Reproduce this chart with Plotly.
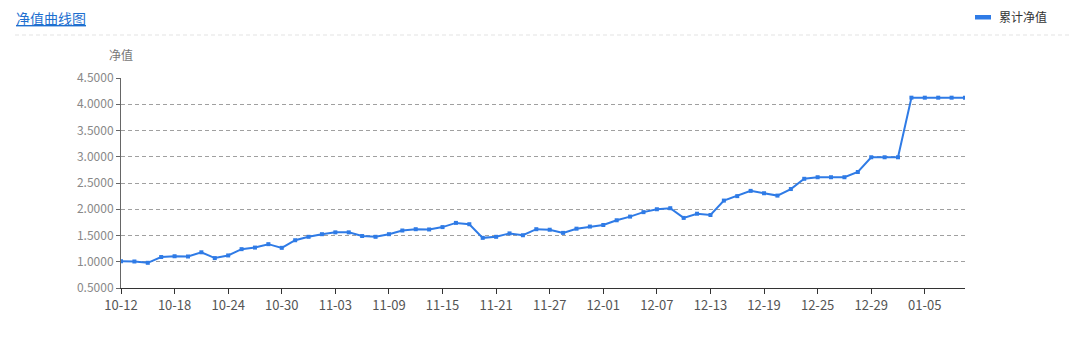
import plotly.graph_objects as go

dates = ["10-12", "10-13", "10-15", "10-16", "10-18", "10-19", "10-21", "10-22",
         "10-24", "10-25", "10-27", "10-28", "10-30", "10-31", "11-01", "11-02",
         "11-03", "11-04", "11-06", "11-07", "11-09", "11-10", "11-12", "11-13",
         "11-15", "11-16", "11-18", "11-19", "11-21", "11-22", "11-24", "11-25",
         "11-27", "11-28", "11-29", "11-30", "12-01", "12-02", "12-04", "12-05",
         "12-07", "12-08", "12-10", "12-11", "12-13", "12-14", "12-16", "12-17",
         "12-19", "12-20", "12-22", "12-23", "12-25", "12-26", "12-27", "12-28",
         "12-29", "12-30", "12-31", "01-02", "01-05", "01-06", "01-07", "01-08"]

nav = [1.010, 1.005, 0.980, 1.090, 1.105, 1.100, 1.180, 1.070,
       1.120, 1.240, 1.270, 1.335, 1.265, 1.410, 1.475, 1.525,
       1.560, 1.560, 1.490, 1.475, 1.525, 1.595, 1.620, 1.615,
       1.660, 1.740, 1.715, 1.455, 1.475, 1.540, 1.505, 1.620,
       1.610, 1.550, 1.630, 1.670, 1.700, 1.790, 1.860, 1.945,
       2.000, 2.020, 1.835, 1.915, 1.890, 2.165, 2.250, 2.350,
       2.305, 2.260, 2.385, 2.580, 2.610, 2.610, 2.610, 2.710,
       2.990, 2.990, 2.990, 4.125, 4.125, 4.125, 4.125, 4.125]

y_ticks = [0.5, 1.0, 1.5, 2.0, 2.5, 3.0, 3.5, 4.0, 4.5]
tick_step = 4

series_name = "累计净值"
title_text = "净值曲线图"
y_title = "净值"

LINE = "#2f7be6"
FONT = "Noto Sans CJK SC, Microsoft YaHei, sans-serif"

fig = go.Figure()
fig.add_trace(go.Scatter(
    x=dates, y=nav, mode="lines+markers", name=series_name,
    line=dict(color=LINE, width=2),
    marker=dict(symbol="square", size=4, color=LINE),
    showlegend=False,
))

W, H = 1089, 344
L, R, T, B = 121, 124, 78, 56
pw, ph = W - L - R, H - T - B


def px(x):
    return (x - L) / pw


def py(y):
    return (H - B - y) / ph


fig.update_layout(
    width=W, height=H,
    margin=dict(l=L, r=R, t=T, b=B, pad=0),
    paper_bgcolor="white", plot_bgcolor="white",
    font=dict(family=FONT, size=12, color="#666"),
    xaxis=dict(
        type="category", range=[0, len(dates) - 1],
        tickvals=dates[::tick_step], ticktext=dates[::tick_step],
        showgrid=False, showline=True, linecolor="#333", linewidth=1,
        ticks="outside", ticklen=5, tickcolor="#333",
        tickfont=dict(size=13, color="#555"), zeroline=False,
    ),
    yaxis=dict(
        range=[0.5, 4.5], tickvals=y_ticks, tickformat=".4f",
        showgrid=True, gridcolor="#a0a0a0", griddash="4px,3px", gridwidth=1,
        showline=True, linecolor="#666", linewidth=1,
        ticks="outside", ticklen=4, tickcolor="#666",
        tickfont=dict(size=12, color="#888"), zeroline=False,
    ),
)

# Title
fig.add_annotation(
    x=px(14), y=py(18), xref="paper", yref="paper",
    text="<u>" + title_text + "</u>", showarrow=False,
    xanchor="left", yanchor="middle",
    font=dict(size=14, color="#1e6fd0", family=FONT),
)
# Separator line
fig.add_shape(
    type="line", xref="paper", yref="paper",
    x0=px(15), x1=px(1072), y0=py(35), y1=py(35),
    line=dict(color="#e3e3e3", width=1, dash="4px,3px"),
)
# Legend
fig.add_shape(
    type="rect", xref="paper", yref="paper",
    x0=px(975), x1=px(991), y0=py(19.5), y1=py(15),
    fillcolor=LINE, line=dict(width=0),
)
fig.add_annotation(
    x=px(997), y=py(17), xref="paper", yref="paper",
    text=series_name, showarrow=False, xanchor="left", yanchor="middle",
    font=dict(size=12, color="#333", family=FONT),
)
# Y axis title
fig.add_annotation(
    x=px(121), y=py(55), xref="paper", yref="paper",
    text=y_title, showarrow=False, xanchor="center", yanchor="middle",
    font=dict(size=12, color="#777", family=FONT),
)

fig.write_html("out.html")
